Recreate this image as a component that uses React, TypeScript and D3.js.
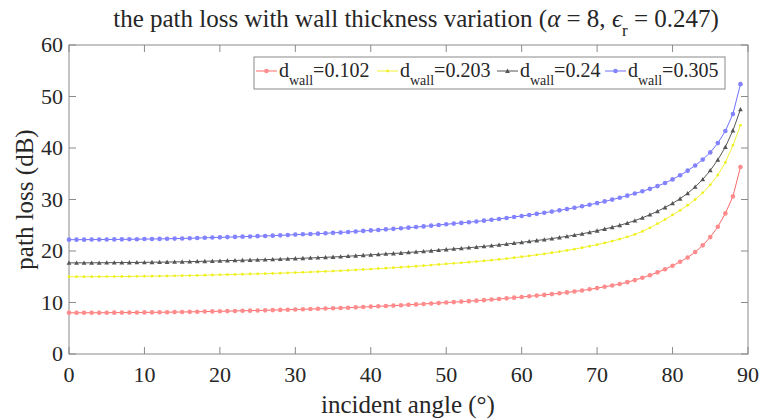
import React from "react";
import * as d3 from "d3";

const angles: number[] = d3.range(0, 90);

const red: number[] = [
  8.0, 8.0, 8.0, 8.01, 8.01, 8.02, 8.03, 8.04, 8.05, 8.06,
  8.08, 8.09, 8.1, 8.12, 8.14, 8.16, 8.18, 8.21, 8.24, 8.27,
  8.3, 8.33, 8.36, 8.39, 8.42, 8.45, 8.48, 8.52, 8.56, 8.6,
  8.65, 8.69, 8.73, 8.78, 8.83, 8.88, 8.93, 8.99, 9.06, 9.13,
  9.2, 9.26, 9.33, 9.4, 9.47, 9.55, 9.63, 9.72, 9.81, 9.9,
  10.0, 10.08, 10.17, 10.26, 10.36, 10.46, 10.57, 10.68, 10.81, 10.94,
  11.07, 11.2, 11.34, 11.48, 11.63, 11.79, 11.96, 12.14, 12.34, 12.56,
  12.8, 13.05, 13.3, 13.6, 13.95, 14.35, 14.8, 15.3, 15.85, 16.45,
  17.15, 17.9, 18.75, 19.8, 21.1, 22.7, 24.7, 27.3, 30.6, 36.3,
];

const yellow: number[] = [
  15.0, 15.0, 15.0, 15.01, 15.01, 15.03, 15.04, 15.05, 15.06, 15.08,
  15.1, 15.11, 15.13, 15.15, 15.18, 15.2, 15.23, 15.26, 15.3, 15.34,
  15.38, 15.41, 15.45, 15.49, 15.53, 15.56, 15.6, 15.65, 15.7, 15.75,
  15.81, 15.86, 15.91, 15.98, 16.04, 16.1, 16.16, 16.24, 16.33, 16.41,
  16.5, 16.58, 16.66, 16.75, 16.84, 16.94, 17.04, 17.15, 17.26, 17.38,
  17.5, 17.6, 17.71, 17.83, 17.95, 18.08, 18.21, 18.36, 18.52, 18.7,
  18.88, 19.06, 19.25, 19.45, 19.66, 19.88, 20.11, 20.36, 20.63, 20.92,
  21.23, 21.56, 21.92, 22.31, 22.74, 23.22, 23.8, 24.5, 25.3, 26.1,
  27.0, 27.9, 28.9, 30.0, 31.3, 32.85, 34.75, 37.2, 40.5, 44.4,
];

const black: number[] = [
  17.7, 17.7, 17.7, 17.71, 17.71, 17.73, 17.74, 17.75, 17.77, 17.78,
  17.8, 17.82, 17.83, 17.86, 17.88, 17.91, 17.93, 17.97, 18.01, 18.05,
  18.09, 18.13, 18.17, 18.21, 18.25, 18.29, 18.32, 18.38, 18.43, 18.48,
  18.55, 18.6, 18.65, 18.71, 18.78, 18.84, 18.91, 18.99, 19.08, 19.17,
  19.26, 19.34, 19.43, 19.52, 19.61, 19.72, 19.82, 19.94, 20.05, 20.17,
  20.3, 20.4, 20.52, 20.64, 20.77, 20.9, 21.04, 21.18, 21.35, 21.52,
  21.69, 21.86, 22.04, 22.22, 22.42, 22.63, 22.85, 23.08, 23.34, 23.63,
  23.94, 24.27, 24.62, 25.0, 25.42, 25.9, 26.45, 27.05, 27.7, 28.45,
  29.25, 30.15, 31.2, 32.45, 33.9, 35.65, 37.7, 40.2, 43.4, 47.5,
];

const blue: number[] = [
  22.2, 22.2, 22.2, 22.22, 22.22, 22.23, 22.25, 22.26, 22.28, 22.29,
  22.32, 22.34, 22.35, 22.38, 22.41, 22.44, 22.47, 22.52, 22.56, 22.61,
  22.65, 22.7, 22.74, 22.79, 22.83, 22.88, 22.92, 22.98, 23.04, 23.1,
  23.18, 23.24, 23.3, 23.37, 23.45, 23.52, 23.6, 23.69, 23.79, 23.9,
  24.0, 24.09, 24.2, 24.3, 24.41, 24.53, 24.65, 24.78, 24.92, 25.05,
  25.2, 25.32, 25.46, 25.59, 25.74, 25.89, 26.06, 26.22, 26.42, 26.61,
  26.81, 27.0, 27.21, 27.42, 27.65, 27.89, 28.14, 28.4, 28.68, 28.98,
  29.3, 29.63, 29.98, 30.35, 30.75, 31.17, 31.6, 32.07, 32.6, 33.2,
  33.9, 34.7, 35.6, 36.6, 37.75, 39.15, 40.95, 43.3, 46.6, 52.4,
];

const legendValues: string[] = ["0.102", "0.203", "0.24", "0.305"];
const xTicks: number[] = [0, 10, 20, 30, 40, 50, 60, 70, 80, 90];
const yTicks: number[] = [0, 10, 20, 30, 40, 50, 60];

type Series = { values: number[]; line: string; fill: string; marker: "circle" | "triangle" | "dot" };
const seriesList: Series[] = [
  { values: red, line: "#ff6a6a", fill: "#ff8c8c", marker: "circle" },
  { values: yellow, line: "#f2f236", fill: "#f0f020", marker: "dot" },
  { values: black, line: "#555555", fill: "#555555", marker: "triangle" },
  { values: blue, line: "#6f6fff", fill: "#8383ff", marker: "circle" },
];

const W = 762;
const H = 419;
const L = 69, R = 748, T = 45, B = 354;
const FONT = "'Liberation Serif', 'Times New Roman', serif";
const TXT = "#262626";
const AX = "#8a8a8a";

function Marker({ kind, x, y, fill }: { kind: string; x: number; y: number; fill: string }) {
  if (kind === "triangle") {
    const s = 2.4;
    return <path d={`M${x},${y - s}L${x + s},${y + s * 0.8}L${x - s},${y + s * 0.8}Z`} fill={fill} />;
  }
  if (kind === "dot") return <circle cx={x} cy={y} r={1.4} fill={fill} />;
  return <circle cx={x} cy={y} r={2.3} fill={fill} />;
}

export default function App() {
  const x = d3.scaleLinear().domain([0, 90]).range([L, R]);
  const y = d3.scaleLinear().domain([0, 60]).range([B, T]);
  const line = d3.line<number>().x((_, i) => x(angles[i])).y((v) => y(v));

  const legendX = [256, 377, 497, 605];
  const legendY = 75;

  return (
    <div style={{ position: "absolute", left: 0, top: 0 }}>
      <svg width={W} height={H} style={{ display: "block", background: "#fff" }}>
        {/* title */}
        <text x={416} y={27} textAnchor="middle" fontFamily={FONT} fontSize={25} fill={TXT}>
          the path loss with wall thickness variation (
          <tspan fontStyle="italic">α</tspan> = 8, <tspan fontStyle="italic">ϵ</tspan>
          <tspan dy={9} fontSize={17}>r</tspan>
          <tspan dy={-9}> = 0.247)</tspan>
        </text>

        {/* axes box */}
        <rect x={L} y={T} width={R - L} height={B - T} fill="none" stroke={AX} strokeWidth={1} />
        {xTicks.map((t) => (
          <g key={"x" + t}>
            <line x1={x(t)} x2={x(t)} y1={B} y2={B - 7} stroke={AX} />
            <line x1={x(t)} x2={x(t)} y1={T} y2={T + 7} stroke={AX} />
            <text x={x(t)} y={382} textAnchor="middle" fontFamily={FONT} fontSize={22} fill={TXT}>
              {t}
            </text>
          </g>
        ))}
        {yTicks.map((t) => (
          <g key={"y" + t}>
            <line x1={L} x2={L + 7} y1={y(t)} y2={y(t)} stroke={AX} />
            <line x1={R} x2={R - 7} y1={y(t)} y2={y(t)} stroke={AX} />
            <text x={63} y={y(t) + 7} textAnchor="end" fontFamily={FONT} fontSize={22} fill={TXT}>
              {t}
            </text>
          </g>
        ))}
        <text x={408} y={413} textAnchor="middle" fontFamily={FONT} fontSize={25} fill={TXT}>
          incident angle (°)
        </text>
        <text
          transform={`translate(33,${(T + B) / 2}) rotate(-90)`}
          textAnchor="middle"
          fontFamily={FONT}
          fontSize={25}
          fill={TXT}
        >
          path loss (dB)
        </text>

        {/* series */}
        {seriesList.map((s, k) => (
          <g key={"s" + k}>
            <path d={line(s.values) || ""} fill="none" stroke={s.line} strokeWidth={1} />
            {s.values.map((v, i) => (
              <Marker key={i} kind={s.marker} x={x(angles[i])} y={y(v)} fill={s.fill} />
            ))}
          </g>
        ))}

        {/* legend */}
        <rect x={254} y={57} width={471} height={32} fill="#fff" stroke={AX} strokeWidth={1} />
        {seriesList.map((s, k) => (
          <g key={"l" + k}>
            <line x1={legendX[k]} x2={legendX[k] + 21} y1={legendY - 4} y2={legendY - 4} stroke={s.line} />
            <Marker kind={s.marker} x={legendX[k] + 10.5} y={legendY - 4} fill={s.fill} />
            <text x={legendX[k] + 23} y={legendY + 2} fontFamily={FONT} fontSize={20} fill={TXT}>
              d
              <tspan dy={8} fontSize={14}>wall</tspan>
              <tspan dy={-8}>={legendValues[k]}</tspan>
            </text>
          </g>
        ))}
      </svg>
    </div>
  );
}
